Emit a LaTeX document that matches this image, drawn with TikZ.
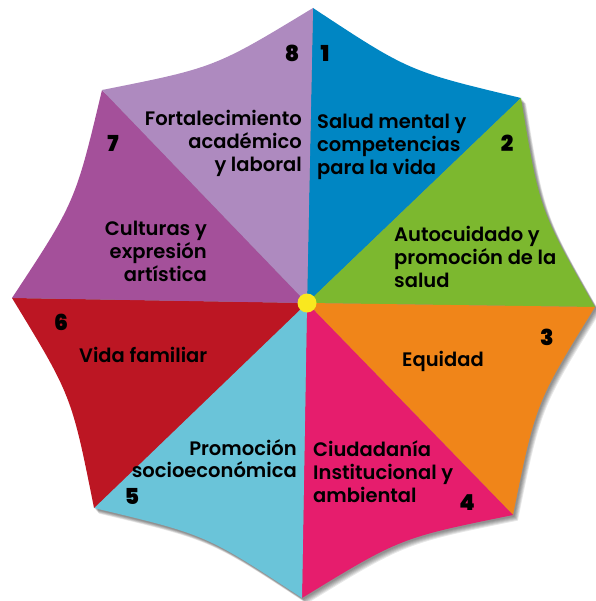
\documentclass[tikz,border=0pt]{standalone}
\usepackage{fontspec}
\setmainfont{Poppins}[UprightFont=* SemiBold, BoldFont=* Black]
\usetikzlibrary{calc}
\definecolor{cA}{HTML}{0086C3}
\definecolor{cB}{HTML}{7CB82F}
\definecolor{cC}{HTML}{F08519}
\definecolor{cD}{HTML}{E61D6D}
\definecolor{cE}{HTML}{6AC4D9}
\definecolor{cF}{HTML}{BC1623}
\definecolor{cG}{HTML}{A4509A}
\definecolor{cH}{HTML}{AE8ABF}
\definecolor{cY}{HTML}{F9E81F}
\tikzset{
  lbl/.style={inner sep=0pt, font=\fontsize{19.5}{23}\selectfont, text=black},
  num/.style={inner sep=0pt, font=\fontsize{22}{22}\selectfont\bfseries, text=black, anchor=base},
}
\begin{document}
\begin{tikzpicture}[x=1pt,y=-1pt]
\useasboundingbox (0,0) rectangle (595,601);
\coordinate (C) at (307,303);
\coordinate (V1) at (313,8);
\coordinate (V2) at (521,98);
\coordinate (V3) at (595,307);
\coordinate (V4) at (513,515);
\coordinate (V5) at (302,598);
\coordinate (V6) at (94,508);
\coordinate (V7) at (12,298);
\coordinate (V8) at (102,90);
\foreach \a/\b in {1/2,2/3,3/4,4/5,5/6,6/7,7/8,8/1}{
  \coordinate (P\a\b) at ($(V\a)!0.5!(V\b)!20pt!(C)$);
}
% shadow
\foreach \s in {2,3,4,5,6,7}{
\begin{scope}[transform canvas={shift={(\s*0.7pt,-\s*0.8pt)}}]
\fill[black, opacity=0.09] (V1) .. controls (P12) .. (V2) .. controls (P23) .. (V3) .. controls (P34) .. (V4) .. controls (P45) .. (V5) .. controls (P56) .. (V6) .. controls (P67) .. (V7) .. controls (P78) .. (V8) .. controls (P81) .. (V1) -- cycle;
\end{scope}
}
% sectors
\fill[cA] (C) -- (V1) .. controls (P12) .. (V2) -- cycle;
\fill[cB] (C) -- (V2) .. controls (P23) .. (V3) -- cycle;
\fill[cC] (C) -- (V3) .. controls (P34) .. (V4) -- cycle;
\fill[cD] (C) -- (V4) .. controls (P45) .. (V5) -- cycle;
\fill[cE] (C) -- (V5) .. controls (P56) .. (V6) -- cycle;
\fill[cF] (C) -- (V6) .. controls (P67) .. (V7) -- cycle;
\fill[cG] (C) -- (V7) .. controls (P78) .. (V8) -- cycle;
\fill[cH] (C) -- (V8) .. controls (P81) .. (V1) -- cycle;
\node[circle, fill=cY, minimum size=19pt, inner sep=0pt] (dot) at (C) {};
% labels (anchor = baseline of last line)
\node[lbl, align=left, anchor=base west] (t1) at (317,175) {Salud mental y\\competencias\\para la vida};
\node[lbl, align=right, anchor=base east] (t8) at (302,172) {Fortalecimiento\\académico\\y laboral};
\node[lbl, align=left, anchor=base west] (t2) at (394,287) {Autocuidado y\\promoción de la\\salud};
\node[lbl, align=right, anchor=base east] (t7) at (207,281) {Culturas y\\expresión\\artística};
\node[lbl, anchor=base west] (t6) at (79,362) {Vida familiar};
\node[lbl, anchor=base west] (t3) at (402,366) {Equidad};
\node[lbl, align=right, anchor=base east, font=\fontsize{19.5}{22}\selectfont] (t5) at (297,477) {Promoción\\socioeconómica};
\node[lbl, align=left, anchor=base west] (t4) at (313,502) {Ciudadanía\\Institucional y\\ambiental};
% numbers
\node[num] (n1) at (325,62) {1};
\node[num] (n8) at (292,62) {8};
\node[num] (n2) at (507,152) {2};
\node[num] (n7) at (113,152) {7};
\node[num] (n6) at (61,330) {6};
\node[num] (n3) at (547,345) {3};
\node[num] (n5) at (132,504) {5};
\node[num] (n4) at (467,510) {4};
\end{tikzpicture}
\end{document}
